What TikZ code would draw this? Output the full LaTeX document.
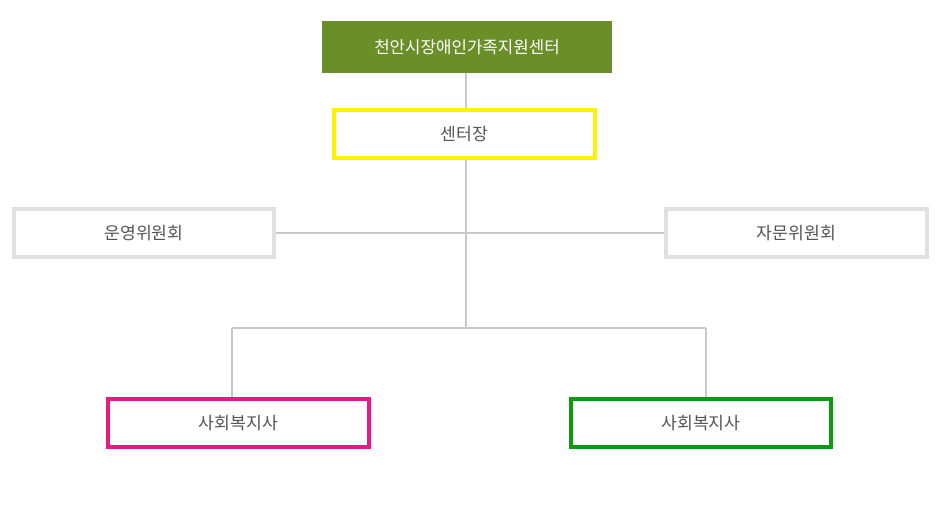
\documentclass[tikz,border=0pt]{standalone}
\usepackage{fontspec}
\newfontfamily\kr{Noto Sans CJK KR}
\definecolor{topgreen}{HTML}{6A8E28}
\definecolor{ylw}{HTML}{FFF200}
\definecolor{pnk}{HTML}{E8178A}
\definecolor{grn}{HTML}{0E9A0E}
\definecolor{lgray}{HTML}{E0E0E0}
\definecolor{linegray}{HTML}{C8C8C8}
\definecolor{txt}{HTML}{555555}
\begin{document}
\begin{tikzpicture}[x=1pt,y=-1pt,
  box/.style={draw, line width=4pt, fill=white, inner sep=0pt, minimum width=260pt, minimum height=48pt,
    font=\kr\fontsize{17.2}{18}\selectfont, text=txt},
  topbox/.style={fill=topgreen, inner sep=0pt, minimum width=290pt, minimum height=52pt,
    font=\kr\fontsize{16.8}{18}\selectfont, text=white},
  conn/.style={draw=linegray, line width=2pt}]
\useasboundingbox (0,0) rectangle (940,504);
\coordinate (hub) at (466,328);
\coordinate (lb) at (232,328);
\coordinate (rb) at (706,328);
\node[topbox] (top) at (467,47) {천안시장애인가족지원센터};
\node[box, draw=ylw, minimum width=261pt] (head) at (464.5,134) {센터장};
\node[box, draw=lgray] (op) at (144,233) {운영위원회};
\node[box, draw=lgray, minimum width=261pt] (adv) at (796.5,233) {자문위원회};
\node[box, draw=pnk, minimum width=261pt] (sw1) at (238.5,423) {사회복지사};
\node[box, draw=grn] (sw2) at (701,423) {사회복지사};
\draw[conn] (top.south -| hub) -- (head.north -| hub);
\draw[conn] (head.south -| hub) -- (hub);
\draw[conn] (op.east) -- (adv.west);
\draw[conn] (lb) -- (rb);
\draw[conn] (lb) -- (sw1.north -| lb);
\draw[conn] (rb) -- (sw2.north -| rb);
\end{tikzpicture}
\end{document}
